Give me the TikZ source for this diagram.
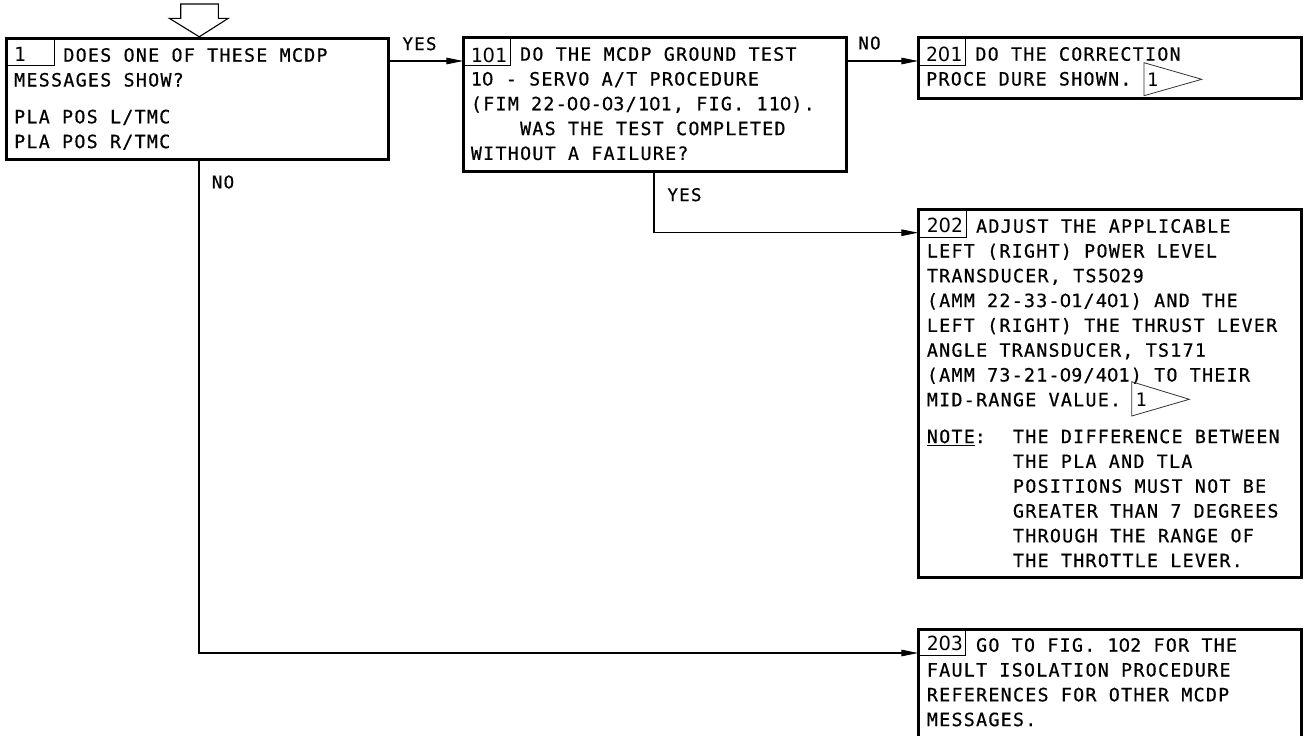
\documentclass[tikz,border=0pt]{standalone}
\usepackage{fontspec}
\newfontfamily\monof[LetterSpace=7.0,FakeBold=0.6]{DejaVu Sans Mono}
\newfontfamily\zf[LetterSpace=4.0,FakeBold=0.6]{DejaVu Sans}
\newfontfamily\numf{DejaVu Sans Mono}
\newfontfamily\numzf{DejaVu Sans}
\usetikzlibrary{arrows.meta}
\newcommand{\tfont}{\monof\fontsize{18.3}{24.8}\selectfont}
\newcommand{\nfont}{\numf\fontsize{19.5}{22}\selectfont}
\newcommand{\zz}{{\zf 0}}
\newcommand{\zn}{{\numzf 0}}
\newlength{\chw}\setlength{\chw}{12.3pt}
\newcommand{\myind}[1]{\hspace*{#1\chw}}
\newcommand{\fl}{\rule{0pt}{15pt}}
\tikzset{
 box/.style={draw, line width=3pt, anchor=north west, inner sep=0pt, outer sep=0pt},
 cell/.style={draw, line width=0.9pt, anchor=north west, inner sep=0pt, outer sep=0pt},
 txt/.style={anchor=north west, inner sep=0pt, align=left, font=\tfont},
 num/.style={anchor=base west, inner sep=0pt, font=\nfont},
 lbl/.style={inner sep=0pt, font=\monof\fontsize{17.5}{20}\selectfont},
 conn/.style={line width=1.1pt},
 arr/.style={conn, -{Triangle[length=17pt,width=6.5pt]}},
 tri/.style={line width=0.8pt, draw=black!80},
}
\begin{document}
\begin{tikzpicture}[x=1pt,y=-1pt]
\useasboundingbox (0,0) rectangle (1304,736);
% boxes
\node[box, minimum width=381.6pt, minimum height=121pt] (b1) at (6.7,38.3) {};
\node[box, minimum width=383.4pt, minimum height=134.4pt] (b101) at (463.3,37.3) {};
\node[box, minimum width=382.7pt, minimum height=60.7pt] (b201) at (918.3,37.3) {};
\node[box, minimum width=382.7pt, minimum height=368.3pt] (b202) at (918.3,209) {};
\node[box, minimum width=382.7pt, minimum height=116pt] (b203) at (918.3,629) {};
% number cells
\node[cell, minimum width=47.3pt, minimum height=26.7pt] (c1) at (b1.north west) {};
\node[cell, minimum width=46.7pt, minimum height=27.7pt] (c101) at (b101.north west) {};
\node[cell, minimum width=47.4pt, minimum height=27.7pt] (c201) at (b201.north west) {};
\node[cell, minimum width=48.4pt, minimum height=28.3pt] (c202) at (b202.north west) {};
\node[cell, minimum width=47.4pt, minimum height=26pt] (c203) at (b203.north west) {};
\node[num] (n1) at (14,61.7) {1};
\node[num] (n101) at (470.7,62.5) {1\zn1};
\node[num] (n201) at (926,61.7) {2\zn1};
\node[num] (n202) at (926.7,232.3) {2\zn2};
\node[num] (n203) at (926.7,650.5) {2\zn3};
% texts
\node[txt] (t1) at (14,46.5) {\fl\myind{4}DOES ONE OF THESE MCDP\\
MESSAGES SHOW?\\[12pt]
PLA POS L/TMC\\
PLA POS R/TMC};
\node[txt] (t101) at (470.7,45.5) {\fl\myind{4}DO THE MCDP GROUND TEST\\
1\zz{} - SERVO A/T PROCEDURE\\
(FIM 22-\zz\zz-\zz3/1\zz1, FIG. 11\zz).\\
\myind{4}WAS THE TEST COMPLETED\\
WITHOUT A FAILURE?};
\node[txt] (t201) at (926,45.5) {\fl\myind{4}DO THE CORRECTION\\
PROCE DURE SHOWN.};
\node[txt] (t202) at (926.7,217.5) {\fl\myind{4}ADJUST THE APPLICABLE\\
LEFT (RIGHT) POWER LEVEL\\
TRANSDUCER, TS5\zz29\\
(AMM 22-33-\zz1/4\zz1) AND THE\\
LEFT (RIGHT) THE THRUST LEVER\\
ANGLE TRANSDUCER, TS171\\
(AMM 73-21-\zz9/4\zz1) TO THEIR\\
MID-RANGE VALUE.\\[12pt]
\makebox[7\chw][l]{\underline{NOTE}:}THE DIFFERENCE BETWEEN\\
\myind{7}THE PLA AND TLA\\
\myind{7}POSITIONS MUST NOT BE\\
\myind{7}GREATER THAN 7 DEGREES\\
\myind{7}THROUGH THE RANGE OF\\
\myind{7}THE THROTTLE LEVER.};
\node[txt] (t203) at (926.7,636.5) {\fl\myind{4}GO TO FIG. 1\zz2 FOR THE\\
FAULT ISOLATION PROCEDURE\\
REFERENCES FOR OTHER MCDP\\
MESSAGES.};
% reference triangles
\draw[tri] (1144,62.7) -- (1201.7,79.3) -- (1144,95.7) -- cycle;
\node[num, font=\numf\fontsize{18.5}{20}\selectfont] (r201) at (1147,86) {1};
\draw[tri] (1131.7,381.7) -- (1189.3,399.3) -- (1131.7,416) -- cycle;
\node[num, font=\numf\fontsize{18.5}{20}\selectfont] (r202) at (1135.5,406.7) {1};
% entry arrow
\draw[conn, fill=white] (180.7,4) -- (218.3,4) -- (218.3,18.3) -- (228.3,18.3) -- (199.3,36.8) -- (169.3,18.3) -- (180.7,18.3) -- cycle;
% connectors
\coordinate (ya) at (0,61);
\coordinate (cy) at (654,232.7);
\coordinate (cn) at (199,653);
\draw[arr] (b1.east |- ya) -- (b101.west |- ya);
\draw[arr] (b101.east |- ya) -- (b201.west |- ya);
\draw[arr] (b101.south -| cy) |- (b202.west |- cy);
\draw[arr] (b1.south -| cn) |- (b203.west |- cn);
% labels
\node[lbl] (lyes1) at (419.5,43.7) {YES};
\node[lbl] (lno1) at (869.5,43) {NO};
\node[lbl] (lno2) at (223,182) {NO};
\node[lbl] (lyes2) at (684.5,194.7) {YES};
\end{tikzpicture}
\end{document}
